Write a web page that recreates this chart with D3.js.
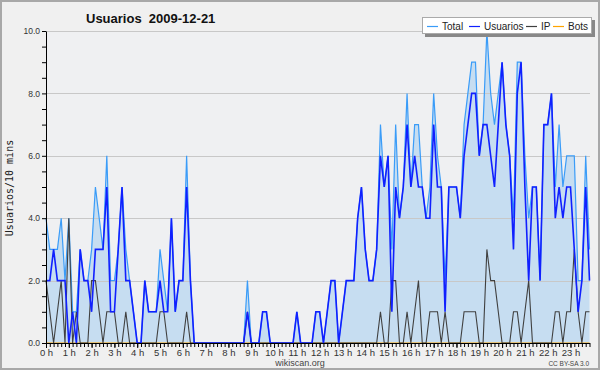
<!DOCTYPE html>
<html>
<head>
<meta charset="utf-8">
<script src="https://cdn.jsdelivr.net/npm/d3@7"></script>
<style>
  body { margin: 0; background: #f0f0f0; }
  svg { display: block; }
  text { font-family: "Liberation Sans", Arial, sans-serif; }
</style>
</head>
<body>
<div id="chart"></div>
<script>
// one value every 10 minutes, 144 per day
var total = [
  4,3,3,3,4,2,4,1,1,3,2,2,
  3,5,4,3,6,2,2,3,5,3,2,1,
  0,0,2,1,1,1,3,2,1,4,1,2,
  2,6,2,0,0,0,0,0,0,0,0,0,
  0,0,0,0,0,2,0,0,0,1,1,0,
  0,0,0,0,0,0,1,0,0,0,0,1,
  1,0,1,2,2,0,1,2,2,2,4,5,
  3,2,2,3,7,5,6,3,7,4,5,8,
  5,7,7,5,4,5,8,6,5,2,5,5,
  5,4,7,8,9,9,6,7,10,8,7,8,
  9,7,6,4,9,9,6,4,5,5,2,7,
  7,8,5,7,5,6,6,6,2,2,6,3
];
var usuarios = [
  2,2,3,2,2,2,0,1,0,3,2,2,
  1,3,3,3,5,1,1,3,5,2,2,1,
  0,0,2,1,1,1,2,1,1,4,1,2,
  2,5,2,0,0,0,0,0,0,0,0,0,
  0,0,0,0,0,1,0,0,0,1,1,0,
  0,0,0,0,0,0,1,0,0,0,0,1,
  1,0,1,2,2,0,1,2,2,2,4,5,
  3,2,2,3,6,5,6,1,5,4,5,7,
  5,6,5,5,4,4,7,5,5,1,5,5,
  5,4,6,7,8,8,6,7,7,6,5,7,
  9,7,6,3,8,9,5,2,5,5,2,7,
  7,8,4,5,4,5,5,3,1,2,5,2
];
var ip = [
  2,1,0,1,2,0,4,0,1,0,0,0,
  2,2,1,0,1,1,1,0,0,1,0,0,
  0,0,0,0,0,0,1,1,0,0,0,0,
  0,1,0,0,0,0,0,0,0,0,0,0,
  0,0,0,0,0,1,0,0,0,0,0,0,
  0,0,0,0,0,0,0,0,0,0,0,0,
  0,0,0,0,0,0,0,0,0,0,0,0,
  0,0,0,0,1,0,0,2,2,0,0,1,
  0,1,2,0,0,1,1,1,0,1,0,0,
  0,0,1,1,1,1,0,0,3,2,2,1,
  0,0,0,1,1,0,1,2,0,0,0,0,
  0,0,1,1,0,1,1,3,1,0,1,1
];
var bots = [
  0,0,0,0,0,0,0,0,0,0,0,0,
  0,0,0,0,0,0,0,0,0,0,0,0,
  0,0,0,0,0,0,0,0,0,0,0,0,
  0,0,0,0,0,0,0,0,0,0,0,0,
  0,0,0,0,0,0,0,0,0,0,0,0,
  0,0,0,0,0,0,0,0,0,0,0,0,
  0,0,0,0,0,0,0,0,0,0,0,0,
  0,0,0,0,0,0,0,0,0,0,0,0,
  0,0,0,0,0,0,0,0,0,0,0,0,
  0,0,0,0,0,0,0,0,0,0,0,0,
  0,0,0,0,0,0,0,0,0,0,0,0,
  0,0,0,0,0,0,0,0,0,0,0,0
];
var hourLabels = ["0 h","1 h","2 h","3 h","4 h","5 h","6 h","7 h","8 h","9 h","10 h","11 h",
  "12 h","13 h","14 h","15 h","16 h","17 h","18 h","19 h","20 h","21 h","22 h","23 h"];
var yLabels = [0, 2, 4, 6, 8, 10];
var seriesNames = ["Total", "Usuarios", "IP", "Bots"];
var seriesColors = ["#3a9cf8", "#1020ff", "#404040", "#ffa500"];

var W = 600, H = 370;
var pLeft = 46, pRight = 590, pTop = 31, pBottom = 343;

var svg = d3.select("#chart").append("svg")
  .attr("width", W).attr("height", H);

// background + frame
svg.append("rect").attr("x", 1).attr("y", 1).attr("width", W - 2).attr("height", H - 2)
  .attr("fill", "#f0f0f0").attr("stroke", "#a8a8a8").attr("stroke-width", 2);
svg.append("rect").attr("x", pLeft).attr("y", pTop).attr("width", pRight - pLeft).attr("height", pBottom - pTop)
  .attr("fill", "#eff0f2");

var x = d3.scaleLinear().domain([0, 143]).range([pLeft, pRight - 0.5]);
var y = d3.scaleLinear().domain([0, 10]).range([pBottom, pTop]);
var idx = d3.range(total.length);

// area under total
svg.append("path")
  .datum(idx)
  .attr("fill", "#c6ddf1")
  .attr("d", d3.area().x(function(i) { return x(i); }).y0(y(0)).y1(function(i) { return y(total[i]); }));

// grid
svg.append("g").selectAll("line")
  .data(yLabels.filter(function(v) { return v > 0; }))
  .enter().append("line")
    .attr("x1", pLeft).attr("x2", pRight)
    .attr("y1", function(v) { return Math.round(y(v)) + 0.5; })
    .attr("y2", function(v) { return Math.round(y(v)) + 0.5; })
    .attr("stroke", "#c8c8c8").attr("stroke-width", 1);

// series lines
var series = [total, usuarios, ip, bots];
var widths = [1.2, 1.6, 1.1, 1.2];
[3, 0, 2, 1].forEach(function(k) {
  var vals = series[k];
  svg.append("path")
    .datum(idx)
    .attr("fill", "none")
    .attr("stroke", seriesColors[k])
    .attr("stroke-width", widths[k])
    .attr("stroke-linejoin", "miter")
    .attr("d", d3.line().x(function(i) { return x(i); }).y(function(i) { return y(vals[i]); }));
});

// y axis
var yAxis = svg.append("g")
  .attr("transform", "translate(" + pLeft + ",0)")
  .call(d3.axisLeft(y)
    .tickValues(d3.range(0, 10.01, 0.5))
    .tickSize(4).tickSizeOuter(0).tickPadding(2)
    .tickFormat(function(d) { return yLabels.indexOf(d) >= 0 ? d.toFixed(1) : ""; }));
yAxis.selectAll("text").style("font-size", "8.5px").style("font-family", "Liberation Sans, Arial, sans-serif").attr("fill", "#333");
yAxis.selectAll("line, path").attr("stroke", "#000");

// x axis: minor ticks every 10 mins
var xAxis = svg.append("g")
  .attr("transform", "translate(0," + pBottom + ")")
  .call(d3.axisBottom(x).tickValues(idx).tickSize(4).tickSizeOuter(0).tickFormat(""));
xAxis.select(".domain").attr("d", "M" + pLeft + ",0.5H" + pRight);
var xHours = svg.append("g")
  .attr("transform", "translate(0," + pBottom + ")")
  .call(d3.axisBottom(x).tickValues(d3.range(0, 144, 6)).tickSize(5).tickSizeOuter(0).tickPadding(1)
    .tickFormat(function(d) { return hourLabels[d / 6]; }));
xHours.select(".domain").remove();
xHours.selectAll("text").style("font-size", "9.5px").style("font-family", "Liberation Sans, Arial, sans-serif").attr("fill", "#333");
svg.selectAll(".tick line").attr("stroke", "#000");

// title
svg.append("text").attr("x", 86).attr("y", 23)
  .attr("xml:space", "preserve")
  .style("font-size", "13px").style("font-weight", "bold").attr("fill", "#111")
  .text("Usuarios  2009-12-21");

// axis name
svg.append("text")
  .attr("transform", "translate(13,188) rotate(-90)")
  .attr("text-anchor", "middle")
  .style("font-family", "DejaVu Sans Mono, monospace").style("font-size", "10px").attr("fill", "#222")
  .text("Usuarios/10 mins");

svg.append("text").attr("x", 300).attr("y", 366).attr("text-anchor", "middle")
  .style("font-size", "9px").attr("fill", "#444").text("wikiscan.org");
svg.append("text").attr("x", 589).attr("y", 366).attr("text-anchor", "end")
  .style("font-size", "6.5px").attr("fill", "#444").text("CC BY-SA 3.0");

// legend
var lg = svg.append("g");
lg.append("rect").attr("x", 425).attr("y", 20).attr("width", 170).attr("height", 17).attr("fill", "#888");
lg.append("rect").attr("x", 422.5).attr("y", 17.5).attr("width", 169).attr("height", 16)
  .attr("fill", "#fff").attr("stroke", "#aaa");
var legX = [427, 469, 526, 553];
seriesNames.forEach(function(n, k) {
  lg.append("line").attr("x1", legX[k]).attr("x2", legX[k] + 11)
    .attr("y1", 26.5).attr("y2", 26.5)
    .attr("stroke", seriesColors[k]).attr("stroke-width", 1.2);
  lg.append("text").attr("x", legX[k] + 15).attr("y", 30)
    .style("font-size", "10px").attr("fill", "#222").text(n);
});
</script>
</body>
</html>
